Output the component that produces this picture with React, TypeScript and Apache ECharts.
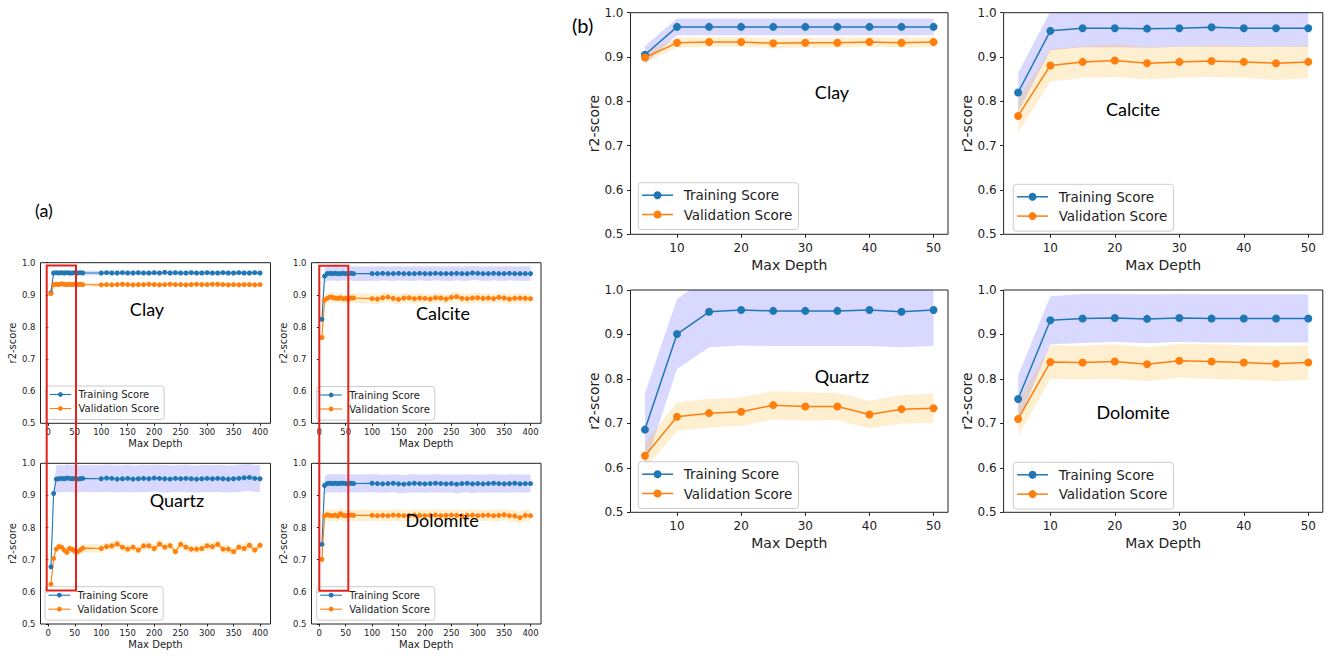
import { useEffect, useRef } from "react";
import * as echarts from "echarts";

// ---------- DATA ----------
const depthA = [5, 10, 15, 20, 25, 30, 35, 40, 45, 50, 55, 60, 65,
  100, 110, 120, 130, 140, 150, 160, 170, 180, 190, 200, 210, 220, 230, 240, 250,
  260, 270, 280, 290, 300, 310, 320, 330, 340, 350, 360, 370, 380, 390, 400];
const depthB = [5, 10, 15, 20, 25, 30, 35, 40, 45, 50];
const xTicksA = [0, 50, 100, 150, 200, 250, 300, 350, 400];
const xTicksB = [10, 20, 30, 40, 50];
const legendNames = ["Training Score", "Validation Score"];

// (a) Clay
const clayA_train = [0.907, 0.968, 0.969, 0.968, 0.969, 0.968, 0.969, 0.968, 0.968, 0.969, 0.968, 0.969, 0.968,
  0.968, 0.969, 0.968, 0.968, 0.969, 0.968, 0.968, 0.969, 0.968, 0.968,
  0.969, 0.968, 0.970, 0.968, 0.969, 0.968, 0.968, 0.969, 0.968, 0.968,
  0.969, 0.968, 0.968, 0.969, 0.968, 0.968, 0.969, 0.968, 0.968, 0.969,
  0.968];
const clayA_trainStd = [0.006, 0.007, 0.007, 0.006, 0.007, 0.007, 0.006, 0.007, 0.007, 0.007, 0.006, 0.007, 0.007,
  0.007, 0.006, 0.007, 0.007, 0.006, 0.007, 0.007, 0.007, 0.006, 0.007,
  0.007, 0.006, 0.007, 0.007, 0.007, 0.006, 0.007, 0.007, 0.006, 0.007,
  0.007, 0.007, 0.006, 0.007, 0.007, 0.006, 0.007, 0.007, 0.007, 0.006,
  0.007];
const clayA_val = [0.904, 0.932, 0.933, 0.932, 0.934, 0.933, 0.932, 0.933, 0.932, 0.933, 0.932, 0.933, 0.932,
  0.931, 0.932, 0.931, 0.932, 0.933, 0.932, 0.931, 0.932, 0.932, 0.933,
  0.932, 0.931, 0.932, 0.933, 0.932, 0.932, 0.931, 0.932, 0.933, 0.932,
  0.932, 0.933, 0.933, 0.932, 0.931, 0.932, 0.931, 0.932, 0.932, 0.931,
  0.932];
const clayA_valStd = [0.006, 0.005, 0.006, 0.005, 0.006, 0.006, 0.005, 0.006, 0.006, 0.005, 0.006, 0.006, 0.005,
  0.006, 0.006, 0.005, 0.006, 0.006, 0.005, 0.006, 0.006, 0.006, 0.005,
  0.006, 0.006, 0.005, 0.006, 0.006, 0.006, 0.005, 0.006, 0.006, 0.005,
  0.006, 0.006, 0.006, 0.005, 0.006, 0.006, 0.005, 0.006, 0.006, 0.006,
  0.005];

// (a) Calcite
const calciteA_train = [0.824, 0.958, 0.966, 0.967, 0.966, 0.967, 0.966, 0.966, 0.967, 0.966, 0.966, 0.967, 0.966,
  0.966, 0.966, 0.967, 0.966, 0.966, 0.967, 0.966, 0.966, 0.966, 0.967,
  0.966, 0.966, 0.967, 0.966, 0.966, 0.966, 0.967, 0.966, 0.966, 0.968,
  0.967, 0.966, 0.966, 0.967, 0.966, 0.966, 0.967, 0.966, 0.966, 0.966,
  0.966];
const calciteA_trainStd = [0.030, 0.024, 0.022, 0.023, 0.022, 0.022, 0.023, 0.022, 0.022, 0.023, 0.022, 0.022, 0.023,
  0.022, 0.023, 0.022, 0.022, 0.023, 0.022, 0.022, 0.022, 0.023, 0.022,
  0.022, 0.023, 0.022, 0.022, 0.022, 0.023, 0.022, 0.022, 0.023, 0.022,
  0.022, 0.022, 0.023, 0.022, 0.022, 0.023, 0.022, 0.022, 0.022, 0.023,
  0.022];
const calciteA_val = [0.767, 0.884, 0.889, 0.893, 0.892, 0.890, 0.889, 0.891, 0.888, 0.889, 0.887, 0.890, 0.890,
  0.888, 0.887, 0.891, 0.893, 0.889, 0.886, 0.890, 0.891, 0.888, 0.890,
  0.889, 0.887, 0.891, 0.890, 0.887, 0.892, 0.894, 0.889, 0.888, 0.890,
  0.891, 0.889, 0.890, 0.888, 0.892, 0.890, 0.887, 0.889, 0.890, 0.889,
  0.888];
const calciteA_valStd = [0.030, 0.016, 0.015, 0.015, 0.016, 0.015, 0.015, 0.016, 0.015, 0.015, 0.016, 0.015, 0.015,
  0.015, 0.016, 0.015, 0.015, 0.015, 0.016, 0.015, 0.015, 0.016, 0.015,
  0.015, 0.015, 0.016, 0.015, 0.015, 0.016, 0.015, 0.015, 0.015, 0.016,
  0.015, 0.015, 0.016, 0.015, 0.015, 0.015, 0.016, 0.015, 0.015, 0.016,
  0.015];

// (a) Quartz
const quartzA_train = [0.678, 0.906, 0.951, 0.952, 0.953, 0.952, 0.954, 0.953, 0.952, 0.953, 0.951, 0.952, 0.953,
  0.952, 0.954, 0.953, 0.951, 0.952, 0.953, 0.951, 0.952, 0.953, 0.952,
  0.954, 0.953, 0.952, 0.951, 0.953, 0.952, 0.953, 0.952, 0.951, 0.952,
  0.953, 0.952, 0.953, 0.952, 0.951, 0.952, 0.953, 0.955, 0.956, 0.953,
  0.952];
const quartzA_trainStd = [0.010, 0.012, 0.042, 0.043, 0.042, 0.042, 0.043, 0.042, 0.042, 0.043, 0.042, 0.042, 0.042,
  0.042, 0.043, 0.042, 0.042, 0.042, 0.043, 0.042, 0.042, 0.043, 0.042,
  0.042, 0.042, 0.043, 0.042, 0.042, 0.042, 0.043, 0.042, 0.042, 0.043,
  0.042, 0.042, 0.042, 0.043, 0.042, 0.042, 0.043, 0.042, 0.042, 0.042,
  0.042];
const quartzA_val = [0.624, 0.704, 0.733, 0.741, 0.739, 0.730, 0.723, 0.735, 0.732, 0.727, 0.725, 0.730, 0.736,
  0.735, 0.741, 0.743, 0.749, 0.739, 0.733, 0.739, 0.730, 0.743, 0.743,
  0.735, 0.749, 0.739, 0.744, 0.725, 0.748, 0.739, 0.733, 0.733, 0.735,
  0.743, 0.741, 0.748, 0.733, 0.733, 0.725, 0.739, 0.735, 0.745, 0.730,
  0.745];
const quartzA_valStd = [0.010, 0.012, 0.013, 0.013, 0.012, 0.013, 0.013, 0.012, 0.013, 0.013, 0.012, 0.013, 0.013,
  0.013, 0.012, 0.013, 0.013, 0.013, 0.012, 0.013, 0.013, 0.012, 0.013,
  0.013, 0.013, 0.012, 0.013, 0.013, 0.013, 0.012, 0.013, 0.013, 0.012,
  0.013, 0.013, 0.012, 0.013, 0.013, 0.013, 0.012, 0.013, 0.013, 0.012,
  0.013];

// (a) Dolomite
const dolomiteA_train = [0.748, 0.931, 0.937, 0.938, 0.937, 0.938, 0.937, 0.938, 0.938, 0.937, 0.937, 0.938, 0.937,
  0.938, 0.937, 0.936, 0.937, 0.938, 0.936, 0.935, 0.937, 0.938, 0.937,
  0.936, 0.937, 0.938, 0.937, 0.936, 0.937, 0.935, 0.937, 0.938, 0.936,
  0.937, 0.936, 0.937, 0.938, 0.937, 0.936, 0.937, 0.938, 0.936, 0.937,
  0.937];
const dolomiteA_trainStd = [0.020, 0.027, 0.028, 0.028, 0.029, 0.028, 0.028, 0.029, 0.028, 0.028, 0.028, 0.029, 0.028,
  0.028, 0.029, 0.028, 0.028, 0.028, 0.029, 0.028, 0.028, 0.029, 0.028,
  0.028, 0.028, 0.029, 0.028, 0.028, 0.028, 0.029, 0.028, 0.028, 0.029,
  0.028, 0.028, 0.028, 0.029, 0.028, 0.028, 0.029, 0.028, 0.028, 0.028,
  0.028];
const dolomiteA_val = [0.701, 0.837, 0.840, 0.838, 0.837, 0.839, 0.836, 0.843, 0.838, 0.837, 0.838, 0.839, 0.838,
  0.838, 0.837, 0.838, 0.837, 0.839, 0.838, 0.837, 0.838, 0.839, 0.838,
  0.837, 0.838, 0.839, 0.837, 0.838, 0.839, 0.838, 0.836, 0.838, 0.839,
  0.837, 0.838, 0.839, 0.837, 0.838, 0.840, 0.837, 0.836, 0.831, 0.838,
  0.837];
const dolomiteA_valStd = [0.015, 0.018, 0.018, 0.019, 0.018, 0.018, 0.019, 0.018, 0.018, 0.018, 0.019, 0.018, 0.018,
  0.018, 0.019, 0.018, 0.018, 0.018, 0.019, 0.018, 0.018, 0.019, 0.018,
  0.018, 0.018, 0.019, 0.018, 0.018, 0.018, 0.019, 0.018, 0.018, 0.019,
  0.018, 0.018, 0.018, 0.019, 0.018, 0.018, 0.019, 0.018, 0.018, 0.018,
  0.018];

// (b)
const clayB_train = [0.905, 0.968, 0.968, 0.968, 0.968, 0.968, 0.968, 0.968, 0.968, 0.968];
const clayB_trainStd = [0.020, 0.019, 0.019, 0.019, 0.019, 0.019, 0.019, 0.019, 0.019, 0.019];
const clayB_val = [0.899, 0.932, 0.934, 0.934, 0.931, 0.932, 0.932, 0.934, 0.932, 0.934];
const clayB_valStd = [0.012, 0.011, 0.011, 0.011, 0.011, 0.011, 0.011, 0.011, 0.011, 0.011];

const calciteB_train = [0.820, 0.959, 0.965, 0.965, 0.964, 0.965, 0.967, 0.965, 0.965, 0.965];
const calciteB_trainStd = [0.044, 0.044, 0.043, 0.043, 0.043, 0.042, 0.043, 0.042, 0.042, 0.042];
const calciteB_val = [0.767, 0.881, 0.889, 0.892, 0.886, 0.889, 0.891, 0.889, 0.886, 0.889];
const calciteB_valStd = [0.038, 0.037, 0.036, 0.037, 0.037, 0.035, 0.036, 0.036, 0.038, 0.037];

const quartzB_train = [0.686, 0.901, 0.951, 0.955, 0.953, 0.953, 0.953, 0.955, 0.951, 0.955];
const quartzB_trainStd = [0.082, 0.079, 0.080, 0.080, 0.079, 0.079, 0.079, 0.081, 0.080, 0.081];
const quartzB_val = [0.627, 0.715, 0.723, 0.726, 0.741, 0.738, 0.738, 0.720, 0.732, 0.734];
const quartzB_valStd = [0.030, 0.032, 0.032, 0.032, 0.032, 0.032, 0.031, 0.031, 0.032, 0.033];

const dolomiteB_train = [0.755, 0.932, 0.936, 0.937, 0.935, 0.937, 0.936, 0.936, 0.936, 0.936];
const dolomiteB_trainStd = [0.053, 0.054, 0.055, 0.054, 0.055, 0.054, 0.054, 0.054, 0.054, 0.054];
const dolomiteB_val = [0.710, 0.838, 0.837, 0.839, 0.833, 0.841, 0.839, 0.837, 0.834, 0.837];
const dolomiteB_valStd = [0.039, 0.038, 0.038, 0.039, 0.038, 0.038, 0.039, 0.039, 0.039, 0.039];

// ---------- PANELS ----------
const panels = [
  { label: "Clay", small: true, x: depthA, train: clayA_train, trainStd: clayA_trainStd, val: clayA_val, valStd: clayA_valStd },
  { label: "Calcite", small: true, x: depthA, train: calciteA_train, trainStd: calciteA_trainStd, val: calciteA_val, valStd: calciteA_valStd },
  { label: "Quartz", small: true, x: depthA, train: quartzA_train, trainStd: quartzA_trainStd, val: quartzA_val, valStd: quartzA_valStd },
  { label: "Dolomite", small: true, x: depthA, train: dolomiteA_train, trainStd: dolomiteA_trainStd, val: dolomiteA_val, valStd: dolomiteA_valStd },
  { label: "Clay", small: false, x: depthB, train: clayB_train, trainStd: clayB_trainStd, val: clayB_val, valStd: clayB_valStd },
  { label: "Calcite", small: false, x: depthB, train: calciteB_train, trainStd: calciteB_trainStd, val: calciteB_val, valStd: calciteB_valStd },
  { label: "Quartz", small: false, x: depthB, train: quartzB_train, trainStd: quartzB_trainStd, val: quartzB_val, valStd: quartzB_valStd },
  { label: "Dolomite", small: false, x: depthB, train: dolomiteB_train, trainStd: dolomiteB_trainStd, val: dolomiteB_val, valStd: dolomiteB_valStd },
];

// layout (pixels)
const layouts = [
  { left: 40.5, top: 262.7, width: 230, height: 160.6, lgLeft: 46, lgTop: 386, tx: 147, ty: 309 },
  { left: 311.5, top: 262.7, width: 229.5, height: 160.6, lgLeft: 316.7, lgTop: 386.5, tx: 443, ty: 313 },
  { left: 40.5, top: 463.3, width: 230, height: 160.7, lgLeft: 45, lgTop: 586.7, tx: 177, ty: 500 },
  { left: 311.5, top: 463.3, width: 229.5, height: 160.7, lgLeft: 316.7, lgTop: 586.7, tx: 442, ty: 520 },
  { left: 630.5, top: 12.7, width: 317.5, height: 221.6, lgLeft: 638.3, lgTop: 182.7, tx: 832, ty: 92 },
  { left: 1003.6, top: 12.7, width: 319.2, height: 221.6, lgLeft: 1013.3, lgTop: 184.3, tx: 1133, ty: 109 },
  { left: 630.5, top: 290, width: 317.5, height: 222.3, lgLeft: 638.3, lgTop: 461.7, tx: 842, ty: 376 },
  { left: 1003.6, top: 290, width: 319.2, height: 222.3, lgLeft: 1013.3, lgTop: 462.3, tx: 1133, ty: 412 },
];

const FONT = "'DejaVu Sans', sans-serif";
const LABEL_FONT = "Lato, 'Open Sans', sans-serif";
const TEXT = "#222";
const BLUE = "#1f77b4";
const ORANGE = "#ff7f0e";

const styleA = {
  xMin: -14.75, xMax: 419.75, ticks: xTicksA, tickFont: 8.5, nameFont: 10, legendFont: 10,
  symbolSize: 5, lineWidth: 1.1, tickLen: 2.5, xMargin: 4, yMargin: 5, xNameGap: 15.5, yNameGap: 23,
  lgItemW: 21.7, lgItemH: 6, lgLineH: 10, lgGap: 4, lgPad: [3.5, 5, 6, 3], lgTextPad: 2.3,
};
const styleB = {
  xMin: 2.75, xMax: 52.25, ticks: xTicksB, tickFont: 12, nameFont: 14, legendFont: 13.5,
  symbolSize: 8, lineWidth: 1.5, tickLen: 3.5, xMargin: 8, yMargin: 7, xNameGap: 23.5, yNameGap: 26,
  lgItemW: 31, lgItemH: 10, lgLineH: 13, lgGap: 5.3, lgPad: [5.5, 6, 8, 3], lgTextPad: 5.6,
};

function bandRenderer(fill: string) {
  return (params: any, api: any) => {
    if (params.dataIndexInside !== 0) return null;
    const n = params.dataInsideLength;
    const upper: number[][] = [];
    const lower: number[][] = [];
    for (let k = 0; k < n; k++) {
      const x = api.value(0, k);
      upper.push(api.coord([x, api.value(2, k)]));
      lower.push(api.coord([x, api.value(1, k)]));
    }
    return {
      type: "polygon",
      shape: { points: upper.concat(lower.reverse()) },
      style: { fill },
      silent: true,
    };
  };
}

function buildOption() {
  const grid: any[] = [];
  const xAxis: any[] = [];
  const yAxis: any[] = [];
  const series: any[] = [];
  const legend: any[] = [];
  const graphic: any[] = [];

  panels.forEach((p, i) => {
    const L = layouts[i];
    const S = p.small ? styleA : styleB;
    grid.push({
      left: L.left, top: L.top, width: L.width, height: L.height,
      show: true, borderColor: TEXT, borderWidth: 1, backgroundColor: "transparent",
    });
    xAxis.push({
      type: "value", gridIndex: i, min: S.xMin, max: S.xMax,
      name: "Max Depth", nameLocation: "middle", nameGap: S.xNameGap,
      nameTextStyle: { fontFamily: FONT, fontSize: S.nameFont, color: TEXT },
      axisLine: { show: false },
      axisTick: { show: true, length: S.tickLen, customValues: S.ticks, lineStyle: { color: TEXT, width: 1 } },
      axisLabel: { customValues: S.ticks, fontFamily: FONT, fontSize: S.tickFont, color: TEXT, margin: S.xMargin },
      splitLine: { show: false },
    });
    yAxis.push({
      type: "value", gridIndex: i, min: 0.5, max: 1.0, interval: 0.1,
      name: "r2-score", nameLocation: "middle", nameGap: S.yNameGap,
      nameTextStyle: { fontFamily: FONT, fontSize: S.nameFont, color: TEXT },
      axisLine: { show: false },
      axisTick: { show: true, length: S.tickLen, lineStyle: { color: TEXT, width: 1 } },
      axisLabel: { fontFamily: FONT, fontSize: S.tickFont, color: TEXT, margin: S.yMargin, formatter: (v: number) => v.toFixed(1) },
      splitLine: { show: false },
    });

    const bands = [
      { mean: p.train, std: p.trainStd, fill: "rgba(0,0,255,0.15)" },
      { mean: p.val, std: p.valStd, fill: "rgba(255,165,0,0.18)" },
    ];
    bands.forEach((b) => {
      series.push({
        type: "custom", xAxisIndex: i, yAxisIndex: i, silent: true, z: 1, clip: true,
        renderItem: bandRenderer(b.fill),
        encode: { x: 0, y: [1, 2] },
        data: p.x.map((x, k) => [x, b.mean[k] - b.std[k], b.mean[k] + b.std[k]]),
      });
    });
    [
      { name: legendNames[0], mean: p.train, color: BLUE },
      { name: legendNames[1], mean: p.val, color: ORANGE },
    ].forEach((s) => {
      series.push({
        type: "line", name: s.name, xAxisIndex: i, yAxisIndex: i, z: 3,
        symbol: "circle", symbolSize: S.symbolSize,
        itemStyle: { color: s.color },
        lineStyle: { color: s.color, width: S.lineWidth },
        data: p.x.map((x, k) => [x, s.mean[k]]),
      });
    });

    legend.push({
      data: legendNames, orient: "vertical", left: L.lgLeft, top: L.lgTop,
      itemWidth: S.lgItemW, itemHeight: S.lgItemH, itemGap: S.lgGap, padding: S.lgPad,
      borderColor: "#cccccc", borderWidth: 1, borderRadius: 3, backgroundColor: "rgba(255,255,255,0.8)",
      selectedMode: false, lineStyle: { width: S.lineWidth },
      textStyle: { fontFamily: FONT, fontSize: S.legendFont, color: TEXT, lineHeight: S.lgLineH, padding: [0, 0, 0, S.lgTextPad] },
    });

    graphic.push({
      type: "text", x: L.tx, y: L.ty, z: 100,
      style: { text: p.label, fontFamily: LABEL_FONT, fontSize: 18, fill: "#000", align: "center", verticalAlign: "middle", textAlign: "center", textVerticalAlign: "middle" },
    });
  });

  graphic.push({
    type: "text", x: 35, y: 210, z: 100,
    style: { text: "(a)", fontFamily: LABEL_FONT, fontSize: 18, fill: "#000", align: "left", verticalAlign: "middle", textAlign: "left", textVerticalAlign: "middle" },
  });
  graphic.push({
    type: "text", x: 572, y: 25, z: 100,
    style: { text: "(b)", fontFamily: LABEL_FONT, fontSize: 20, fill: "#000", align: "left", verticalAlign: "middle", textAlign: "left", textVerticalAlign: "middle" },
  });
  graphic.push({
    type: "rect", z: 100, shape: { x: 46.7, y: 265.5, width: 29.3, height: 325 },
    style: { fill: "none", stroke: "#e3221c", lineWidth: 2 },
  });
  graphic.push({
    type: "rect", z: 100, shape: { x: 319.3, y: 265.7, width: 29, height: 325 },
    style: { fill: "none", stroke: "#e3221c", lineWidth: 2 },
  });

  return { animation: false, backgroundColor: "#fff", grid, xAxis, yAxis, series, legend, graphic };
}

export default function App() {
  const ref = useRef<HTMLDivElement>(null);
  useEffect(() => {
    if (!ref.current) return;
    const chart = echarts.init(ref.current, undefined, { renderer: "svg" });
    chart.setOption(buildOption() as any);
    return () => chart.dispose();
  }, []);
  return <div ref={ref} style={{ position: "absolute", left: 0, top: 0, width: 1329, height: 656 }} />;
}
